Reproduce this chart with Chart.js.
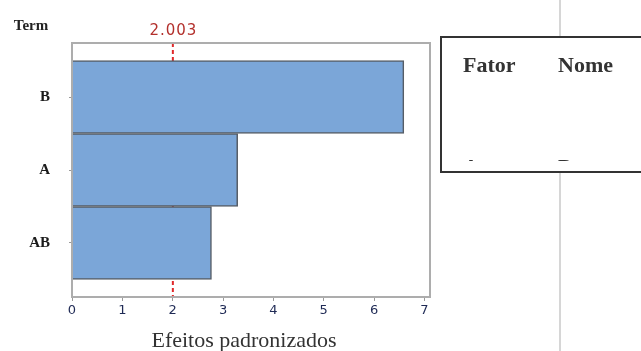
<!DOCTYPE html>
<html>
<head>
<meta charset="utf-8">
<script src="https://cdn.jsdelivr.net/npm/chart.js@4/dist/chart.umd.min.js"></script>
<style>
  html, body { margin: 0; padding: 0; background: #ffffff; }
  #wrap { width: 641px; height: 351px; position: relative; }
</style>
</head>
<body>
<div id="wrap"><canvas id="c" width="641" height="351"></canvas></div>
<script>
// Pareto of standardized effects
const terms = ['B', 'A', 'AB'];
const effects = [6.59, 3.29, 2.77];
const criticalValue = 2.003;
const xTickValues = [0, 1, 2, 3, 4, 5, 6, 7];
const legendHeaders = ['Fator', 'Nome'];
const legendRow = ['A', 'P'];

const serif = '"Liberation Serif", "DejaVu Serif", serif';

// Frame around the plotting area, the critical-value line and the surrounding texts
const decorations = {
  id: 'decorations',
  beforeDraw(chart) {
    const ctx = chart.ctx;
    ctx.save();
    ctx.fillStyle = '#ffffff';
    ctx.fillRect(0, 0, chart.width, chart.height);
    // page divider on the right
    ctx.strokeStyle = '#c9c9c9';
    ctx.lineWidth = 1.5;
    ctx.beginPath();
    ctx.moveTo(560, 0);
    ctx.lineTo(560, chart.height);
    ctx.stroke();
    ctx.restore();
  },
  beforeDatasetsDraw(chart) {
    const ctx = chart.ctx;
    const a = chart.chartArea;
    const xs = chart.scales.x;
    const px = xs.getPixelForValue(criticalValue);
    ctx.save();
    ctx.strokeStyle = '#e0292b';
    ctx.lineWidth = 2;
    ctx.setLineDash([4, 3]);
    ctx.beginPath();
    ctx.moveTo(px, a.top);
    ctx.lineTo(px, a.bottom);
    ctx.stroke();
    ctx.restore();
  },
  afterDraw(chart) {
    const ctx = chart.ctx;
    const a = chart.chartArea;
    const xs = chart.scales.x;
    ctx.save();
    // plot frame
    ctx.strokeStyle = '#adadad';
    ctx.lineWidth = 2;
    ctx.strokeRect(a.left, a.top, a.right - a.left, a.bottom - a.top);

    // critical value label
    ctx.fillStyle = '#b3302c';
    ctx.font = '15px "DejaVu Sans", sans-serif';
    ctx.textAlign = 'center';
    ctx.textBaseline = 'alphabetic';
    try { ctx.letterSpacing = '1px'; } catch (e) {}
    ctx.fillText(criticalValue.toFixed(3), xs.getPixelForValue(criticalValue) + 0.5, 35);
    try { ctx.letterSpacing = '0px'; } catch (e) {}

    // axis titles
    ctx.fillStyle = '#222222';
    ctx.font = 'bold 15px ' + serif;
    ctx.textAlign = 'center';
    ctx.fillText('Term', 31, 30);

    ctx.fillStyle = '#333333';
    ctx.font = '22px ' + serif;
    ctx.fillText('Efeitos padronizados', 244, 347);

    // factor legend box
    ctx.fillStyle = '#ffffff';
    ctx.fillRect(441, 37, 220, 135);
    ctx.strokeStyle = '#333333';
    ctx.lineWidth = 2;
    ctx.strokeRect(441, 37, 220, 135);
    ctx.fillStyle = '#333333';
    ctx.font = 'bold 22px ' + serif;
    ctx.textAlign = 'left';
    ctx.fillText(legendHeaders[0], 463, 72);
    ctx.fillText(legendHeaders[1], 558, 72);
    // first table row, cut off by the text frame
    ctx.save();
    ctx.beginPath();
    ctx.rect(441, 150, 220, 11);
    ctx.clip();
    ctx.fillText(legendRow[0], 463, 174);
    ctx.fillText(legendRow[1], 558, 174);
    ctx.restore();
    ctx.restore();
  }
};

new Chart(document.getElementById('c'), {
  type: 'bar',
  data: {
    datasets: [{
      data: terms.map((t, i) => ({ x: effects[i], y: i })),
      backgroundColor: '#7ba6d8',
      borderColor: '#565d66',
      borderWidth: 1.5,
      barPercentage: 1,
      categoryPercentage: 1
    }]
  },
  options: {
    indexAxis: 'y',
    responsive: false,
    animation: false,
    layout: { padding: { left: 0, top: 43, right: 211, bottom: 0 } },
    plugins: { legend: { display: false }, tooltip: { enabled: false } },
    scales: {
      x: {
        type: 'linear',
        min: 0,
        max: 7.11,
        offset: false,
        afterBuildTicks(scale) { scale.ticks = xTickValues.map(v => ({ value: v })); },
        afterFit(scale) { scale.height = 54; },
        grid: { drawOnChartArea: false, offset: false, tickLength: 4, color: '#9a9a9a', lineWidth: 1 },
        border: { display: false },
        ticks: {
          color: '#1f2a55',
          padding: 2,
          maxRotation: 0,
          font: { family: '"DejaVu Sans", sans-serif', size: 13 }
        }
      },
      y: {
        type: 'linear',
        min: -0.74,
        max: 2.74,
        reverse: true,
        offset: false,
        afterBuildTicks(scale) { scale.ticks = terms.map((t, i) => ({ value: i })); },
        afterFit(scale) { scale.width = 72; },
        grid: { drawOnChartArea: false, offset: false, tickLength: 3, color: '#9a9a9a', lineWidth: 1 },
        border: { display: false },
        ticks: {
          color: '#1b1b1b',
          padding: 19,
          font: { family: serif, size: 15, weight: 'bold' },
          callback: (v) => terms[v] !== undefined ? terms[v] : ''
        }
      }
    }
  },
  plugins: [decorations]
});
</script>
</body>
</html>
